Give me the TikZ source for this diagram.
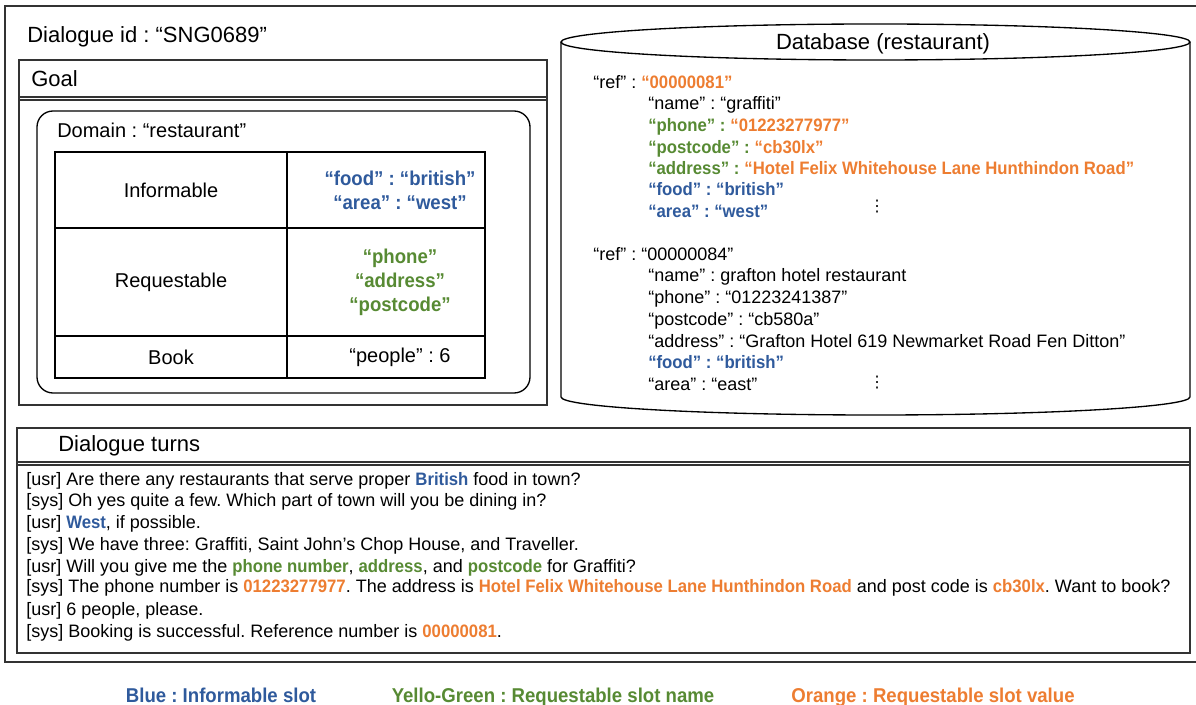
\documentclass[tikz,border=0pt]{standalone}
\usepackage{fontspec}
\setmainfont{Liberation Sans}[BoldFeatures={FakeStretch=0.93}]
\newfontfamily\dotsfont{DejaVu Sans}
\usepackage{xcolor}
\usepackage{tikz}
\frenchspacing

\definecolor{slotblue}{HTML}{2F5A9C}
\definecolor{slotgreen}{HTML}{578A33}
\definecolor{slotorange}{HTML}{ED7D31}

\newcommand{\infslot}[1]{{\bfseries\color{slotblue}#1}}
\newcommand{\reqname}[1]{{\bfseries\color{slotgreen}#1}}
\newcommand{\reqval}[1]{{\bfseries\color{slotorange}#1}}

\begin{document}
\begin{tikzpicture}[x=0.75pt,y=0.75pt,yscale=-1,xscale=1,
  ttl/.style={anchor=base west,inner sep=0pt,font=\fontsize{16.5}{20}\selectfont},
  cell/.style={inner sep=0pt,align=center,font=\fontsize{15}{18}\selectfont},
  txt/.style={anchor=base west,inner sep=0pt,font=\fontsize{13.5}{16}\selectfont},
  vdot/.style={anchor=center,inner sep=0pt,font=\dotsfont\fontsize{12}{14}\selectfont},
  leg/.style={anchor=base,inner sep=0pt,font=\fontsize{15}{18}\bfseries\selectfont},
  frame/.style={line width=1pt,draw=black!80}]
        \useasboundingbox (0,0) rectangle (1196,705);
        % outer frame
        \draw [frame] (1196,6) -- (5,6) -- (5,662) -- (1196,662);
        \node (dlgid) at (27,43) [ttl] {Dialogue id : “SNG0689”};

        % goal
        \draw [frame] (19,60) rectangle (547,405);
        \draw [frame] (19,97) -- (547,97);
        \draw [frame] (19,100) -- (547,100);
        \node (goal) at (31,87) [ttl] {Goal};
        \draw [line width=1pt,rounded corners=12pt] (37,111) rectangle (530,393);
        \node (domain) at (57,138) [txt,font=\fontsize{15}{18}\selectfont] {Domain : “restaurant”};
        \draw [line width=1pt] (55,152) rectangle (485,378);
        \draw [line width=1pt] (287,152) -- (287,378);
        \draw [line width=1pt] (55,228) -- (485,228);
        \draw [line width=1pt] (55,336) -- (485,336);
        \node (infk) at (171,190) [cell] {Informable};
        \node (infv) at (400,190) [cell] {\infslot{“food” : “british”}\\\infslot{“area” : “west”}};
        \node (reqk) at (171,282) [cell] {Requestable};
        \node (reqv) at (400,282) [cell] {\reqname{“phone”}\\\reqname{“address”}\\\reqname{“postcode”}};
        \node (bookk) at (171,357) [cell] {Book};
        \node (bookv) at (400,357) [cell] {“people” : 6};

        % database
        \draw [line width=1pt] (875.5,42) ellipse [x radius=314.5, y radius=18];
        \draw [line width=1pt] (561,42) -- (561,397) arc [start angle=180, end angle=0, x radius=314.5, y radius=18] -- (1190,42);
        \node (db) at (883,50) [ttl,anchor=base] {Database (restaurant)};
        \node (refa) at (593,89) [txt] {“ref” : \reqval{“00000081”}};
        \node (namea) at (648,110) [txt] {“name” : “graffiti”};
        \node (phonea) at (648,132) [txt] {\reqname{“phone” :} \reqval{“01223277977”}};
        \node (posta) at (648,154) [txt] {\reqname{“postcode” :} \reqval{“cb30lx”}};
        \node (addra) at (648,175) [txt] {\reqname{“address” :} \reqval{“Hotel Felix Whitehouse Lane Hunthindon Road”}};
        \node (fooda) at (648,196) [txt] {\infslot{“food” : “british”}};
        \node (areaa) at (648,218) [txt] {\infslot{“area” : “west”}};
        \node (dotsa) at (877,207) [vdot] {⋮};
        \node (refb) at (593,261) [txt] {“ref” : “00000084”};
        \node (nameb) at (648,282) [txt] {“name” : grafton hotel restaurant};
        \node (phoneb) at (648,304) [txt] {“phone” : “01223241387”};
        \node (postb) at (648,326) [txt] {“postcode” : “cb580a”};
        \node (addrb) at (648,348) [txt] {“address” : “Grafton Hotel 619 Newmarket Road Fen Ditton”};
        \node (foodb) at (648,369) [txt] {\infslot{“food” : “british”}};
        \node (areab) at (648,391) [txt] {“area” : “east”};
        \node (dotsb) at (877,383) [vdot] {⋮};

        % dialogue turns
        \draw [frame] (17,428) rectangle (1190,653);
        \draw [frame] (17,462) -- (1190,462);
        \draw [frame] (17,465) -- (1190,465);
        \node (turns) at (58,452) [ttl] {Dialogue turns};
        \node (t1) at (26,486) [txt] {[usr] Are there any restaurants that serve proper \infslot{British} food in town?};
        \node (t2) at (26,507) [txt] {[sys] Oh yes quite a few. Which part of town will you be dining in?};
        \node (t3) at (26,529) [txt] {[usr] \infslot{West}, if possible.};
        \node (t4) at (26,551) [txt] {[sys] We have three: Graffiti, Saint John’s Chop House, and Traveller.};
        \node (t5) at (26,572) [txt] {[usr] Will you give me the \reqname{phone number}, \reqname{address}, and \reqname{postcode} for Graffiti?};
        \node (t6) at (26,593) [txt] {[sys] The phone number is \reqval{01223277977}. The address is \reqval{Hotel Felix Whitehouse Lane Hunthindon Road} and post code is \reqval{cb30lx}. Want to book?};
        \node (t7) at (26,615) [txt] {[usr] 6 people, please.};
        \node (t8) at (26,637) [txt] {[sys] Booking is successful. Reference number is \reqval{00000081}.};

        % legend
        \node (legb) at (221,702) [leg,text=slotblue] {Blue : Informable slot};
        \node (legg) at (553,702) [leg,text=slotgreen] {Yello-Green : Requestable slot name};
        \node (lego) at (933,702) [leg,text=slotorange] {Orange : Requestable slot value};
    \end{tikzpicture}
\end{document}
